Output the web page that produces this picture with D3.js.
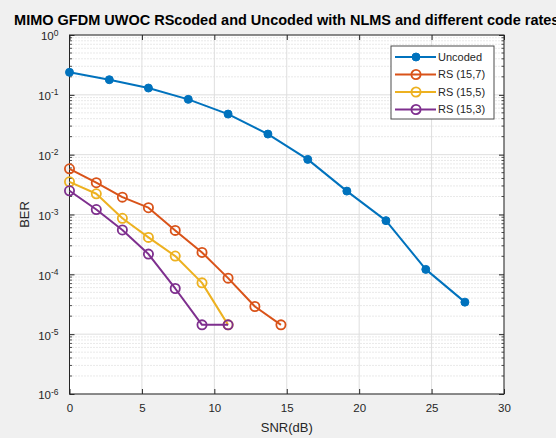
<!DOCTYPE html>
<html>
<head>
<meta charset="utf-8">
<script src="https://cdn.jsdelivr.net/npm/d3@7"></script>
<style>
  html, body { margin: 0; padding: 0; background: #f0f0f0; }
  svg { display: block; font-family: "Liberation Sans", Arial, Helvetica, sans-serif; }
</style>
</head>
<body>
<svg id="chart" width="556" height="438"></svg>
<script>
// SNR (dB) sample points and measured BER for each scheme
const snrUncoded = [0, 2.75, 5.45, 8.2, 10.95, 13.7, 16.45, 19.15, 21.85, 24.6, 27.3];
const berUncoded = [0.238, 0.179, 0.130, 0.084, 0.0477, 0.0221, 0.00834, 0.00246, 0.00079, 0.000121, 0.0000343];

const snrRS157 = [0, 1.85, 3.65, 5.45, 7.3, 9.15, 10.95, 12.8, 14.6];
const berRS157 = [0.0058, 0.0034, 0.00195, 0.0013, 0.000542, 0.000232, 0.0000863, 0.000029, 0.0000143];

const snrRS155 = [0, 1.85, 3.65, 5.45, 7.3, 9.15, 10.95];
const berRS155 = [0.00352, 0.00222, 0.000864, 0.000414, 0.000202, 0.000072, 0.0000143];

const snrRS153 = [0, 1.85, 3.65, 5.45, 7.3, 9.15, 10.95];
const berRS153 = [0.00249, 0.00121, 0.000552, 0.000218, 0.000058, 0.0000143, 0.0000143];

const seriesNames = ["Uncoded", "RS (15,7)", "RS (15,5)", "RS (15,3)"];
const seriesColors = ["#0072BD", "#D95319", "#EDB120", "#7E2F8E"];

const xTicks = [0, 5, 10, 15, 20, 25, 30];
const yExponents = [0, -1, -2, -3, -4, -5, -6];

const titleText = "MIMO GFDM UWOC RScoded and Uncoded with NLMS and different code rates";
const xLabel = "SNR(dB)";
const yLabel = "BER";

const series = [
  { name: seriesNames[0], color: seriesColors[0], x: snrUncoded, y: berUncoded, filled: true },
  { name: seriesNames[1], color: seriesColors[1], x: snrRS157, y: berRS157, filled: false },
  { name: seriesNames[2], color: seriesColors[2], x: snrRS155, y: berRS155, filled: false },
  { name: seriesNames[3], color: seriesColors[3], x: snrRS153, y: berRS153, filled: false }
];

const svg = d3.select("#chart");
const plot = { left: 69.5, right: 504, top: 35, bottom: 394 };

const x = d3.scaleLinear().domain([0, 30]).range([plot.left, plot.right]);
const y = d3.scaleLog().domain([1e-6, 1]).range([plot.bottom, plot.top]);

const axisColor = "#262626";

// axes background
svg.append("rect")
  .attr("x", plot.left).attr("y", plot.top)
  .attr("width", plot.right - plot.left).attr("height", plot.bottom - plot.top)
  .attr("fill", "#ffffff");

// minor ticks: 2..9 within each decade
const minorY = [];
for (let e = -6; e < 0; e++) {
  for (let m = 2; m <= 9; m++) minorY.push(m * Math.pow(10, e));
}

const grid = svg.append("g");
grid.selectAll("line.minor").data(minorY).join("line")
  .attr("class", "minor")
  .attr("x1", plot.left).attr("x2", plot.right)
  .attr("y1", d => y(d)).attr("y2", d => y(d))
  .attr("stroke", "#c8c8c8").attr("stroke-width", 0.8)
  .attr("stroke-dasharray", "1,2");

grid.selectAll("line.majory").data(yExponents.map(e => Math.pow(10, e))).join("line")
  .attr("class", "majory")
  .attr("x1", plot.left).attr("x2", plot.right)
  .attr("y1", d => y(d)).attr("y2", d => y(d))
  .attr("stroke", "#dedede").attr("stroke-width", 1);

grid.selectAll("line.majorx").data(xTicks).join("line")
  .attr("class", "majorx")
  .attr("x1", d => x(d)).attr("x2", d => x(d))
  .attr("y1", plot.top).attr("y2", plot.bottom)
  .attr("stroke", "#dedede").attr("stroke-width", 1);

// x axis (bottom) with labels, top with inward ticks only
const xAxis = svg.append("g")
  .attr("transform", `translate(0,${plot.bottom})`)
  .call(d3.axisBottom(x).tickValues(xTicks).tickSize(-5).tickPadding(10).tickFormat(d3.format("d")));
xAxis.select(".domain").remove();
xAxis.selectAll(".tick line").attr("stroke", axisColor);
xAxis.selectAll(".tick text").attr("fill", axisColor).style("font-size", "11.5px")
  .style("font-family", "'Liberation Sans', Arial, sans-serif");

const xAxisTop = svg.append("g")
  .attr("transform", `translate(0,${plot.top})`)
  .call(d3.axisTop(x).tickValues(xTicks).tickSize(-5).tickFormat(""));
xAxisTop.select(".domain").remove();
xAxisTop.selectAll(".tick line").attr("stroke", axisColor);

// y axis: decade labels as 10^n
const yAxis = svg.append("g")
  .attr("transform", `translate(${plot.left},0)`)
  .call(d3.axisLeft(y).tickValues(yExponents.map(e => Math.pow(10, e))).tickSize(-5).tickPadding(8).tickFormat(""));
yAxis.select(".domain").remove();
yAxis.selectAll(".tick line").attr("stroke", axisColor);
yAxis.selectAll(".tick").each(function(d) {
  const e = Math.round(Math.log10(d));
  const t = d3.select(this).append("text")
    .attr("fill", axisColor)
    .attr("text-anchor", "end")
    .attr("x", -11)
    .attr("dy", "0.42em")
    .style("font-size", "11.5px")
    .style("font-family", "'Liberation Sans', Arial, sans-serif");
  t.append("tspan").text("10");
  t.append("tspan").attr("dy", "-0.55em").style("font-size", "8.5px").text(e === 0 ? "0" : "-" + Math.abs(e));
});

const yAxisRight = svg.append("g")
  .attr("transform", `translate(${plot.right},0)`)
  .call(d3.axisRight(y).tickValues(yExponents.map(e => Math.pow(10, e))).tickSize(-5).tickFormat(""));
yAxisRight.select(".domain").remove();
yAxisRight.selectAll(".tick line").attr("stroke", axisColor);

// minor tick marks on both vertical edges
const minorTicks = svg.append("g");
minorY.forEach(v => {
  minorTicks.append("line").attr("x1", plot.left).attr("x2", plot.left + 2.5)
    .attr("y1", y(v)).attr("y2", y(v)).attr("stroke", axisColor).attr("stroke-width", 0.8);
  minorTicks.append("line").attr("x1", plot.right - 2.5).attr("x2", plot.right)
    .attr("y1", y(v)).attr("y2", y(v)).attr("stroke", axisColor).attr("stroke-width", 0.8);
});

// axes box
svg.append("rect")
  .attr("x", plot.left).attr("y", plot.top)
  .attr("width", plot.right - plot.left).attr("height", plot.bottom - plot.top)
  .attr("fill", "none").attr("stroke", axisColor).attr("stroke-width", 1);

// series lines and markers
const line = d3.line().x(d => x(d[0])).y(d => y(d[1]));
series.forEach(s => {
  const pts = s.x.map((v, i) => [v, s.y[i]]);
  const g = svg.append("g");
  g.append("path").datum(pts)
    .attr("d", line).attr("fill", "none")
    .attr("stroke", s.color).attr("stroke-width", 2)
    .attr("stroke-linejoin", "round");
  g.selectAll("circle").data(pts).join("circle")
    .attr("cx", d => x(d[0])).attr("cy", d => y(d[1]))
    .attr("r", s.filled ? 4 : 4.6)
    .attr("fill", s.filled ? s.color : "none")
    .attr("stroke", s.color).attr("stroke-width", s.filled ? 1 : 1.8);
});

// legend
const legend = svg.append("g").attr("transform", "translate(391,46)");
legend.append("rect")
  .attr("width", 103).attr("height", 73)
  .attr("fill", "#ffffff").attr("stroke", "#4d4d4d").attr("stroke-width", 1);
series.forEach((s, i) => {
  const gy = 11 + i * 17.5;
  const item = legend.append("g").attr("transform", `translate(0,${gy})`);
  item.append("line").attr("x1", 4).attr("x2", 45).attr("y1", 0).attr("y2", 0)
    .attr("stroke", s.color).attr("stroke-width", 2);
  item.append("circle").attr("cx", 25).attr("cy", 0)
    .attr("r", s.filled ? 4 : 4.6)
    .attr("fill", s.filled ? s.color : "none")
    .attr("stroke", s.color).attr("stroke-width", s.filled ? 1 : 1.8);
  item.append("text").attr("x", 47).attr("dy", "0.36em")
    .attr("fill", axisColor).style("font-size", "11px")
    .text(s.name);
});

// title (wider than the figure, so its ends run past the edges) and axis labels
svg.append("text")
  .attr("x", (plot.left + plot.right) / 2).attr("y", 25)
  .attr("text-anchor", "middle")
  .attr("fill", "#000").style("font-size", "14.5px").style("font-weight", "bold")
  .text(titleText);

svg.append("text")
  .attr("x", (plot.left + plot.right) / 2).attr("y", 432)
  .attr("text-anchor", "middle")
  .attr("fill", axisColor).style("font-size", "13px")
  .text(xLabel);

svg.append("text")
  .attr("transform", `translate(29,${(plot.top + plot.bottom) / 2}) rotate(-90)`)
  .attr("text-anchor", "middle")
  .attr("fill", axisColor).style("font-size", "13px")
  .text(yLabel);
</script>
</body>
</html>
